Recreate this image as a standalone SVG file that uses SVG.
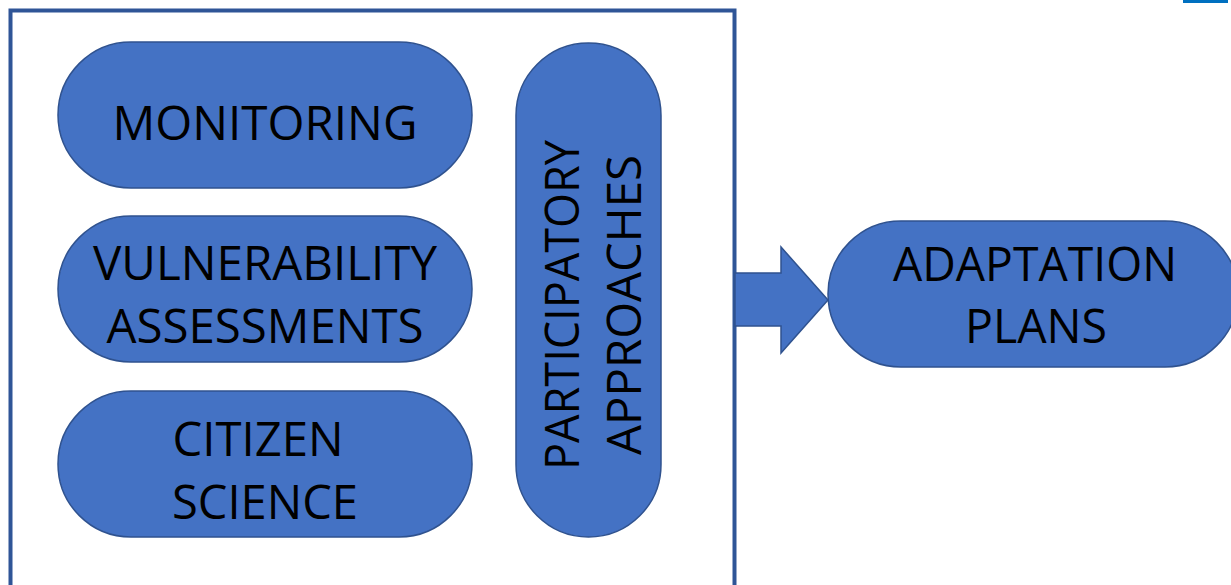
<svg xmlns="http://www.w3.org/2000/svg" width="1231" height="585" viewBox="0 0 1231 585">
<style>
.shape{fill:#4472C4;stroke:#2F528F;stroke-width:1.5}
.lbl{font-family:"Open Sans","Liberation Sans",sans-serif;font-size:48px;fill:#000;text-anchor:middle}
</style>
<rect width="1231" height="585" fill="#fff"/>
<rect x="1183" y="0" width="45" height="3" fill="#0070C0"/>
<g id="frame">
<rect x="10.5" y="10.5" width="724" height="600" fill="none" stroke="#2F5597" stroke-width="4"/>
</g>
<g id="monitoring">
<rect class="shape" x="58" y="42" width="414" height="146" rx="73"/>
<text class="lbl" x="265" y="140" textLength="305" lengthAdjust="spacingAndGlyphs">MONITORING</text>
</g>
<g id="vulnerability">
<rect class="shape" x="58" y="216" width="414" height="146" rx="73"/>
<text class="lbl" x="265" y="280" textLength="344" lengthAdjust="spacingAndGlyphs">VULNERABILITY</text>
<text class="lbl" x="265" y="343" textLength="317" lengthAdjust="spacingAndGlyphs">ASSESSMENTS</text>
</g>
<g id="citizen">
<rect class="shape" x="58" y="391" width="414" height="146" rx="73"/>
<text class="lbl" x="258" y="456" textLength="171" lengthAdjust="spacingAndGlyphs">CITIZEN</text>
<text class="lbl" x="265" y="519" textLength="186" lengthAdjust="spacingAndGlyphs">SCIENCE</text>
</g>
<g id="participatory">
<rect class="shape" x="516" y="43" width="145" height="494" rx="72.5"/>
<text class="lbl" transform="translate(579,305) rotate(-90)" x="0" y="0" textLength="330" lengthAdjust="spacingAndGlyphs">PARTICIPATORY</text>
<text class="lbl" transform="translate(641,305) rotate(-90)" x="0" y="0" textLength="300" lengthAdjust="spacingAndGlyphs">APPROACHES</text>
</g>
<g id="connectors">
<path class="shape" d="M735,273 H781 V247 L828,300 L781,353 V326 H735 Z"/>
</g>
<g id="adaptation">
<rect class="shape" x="828" y="221" width="410" height="146" rx="73"/>
<text class="lbl" x="1035" y="281" textLength="284" lengthAdjust="spacingAndGlyphs">ADAPTATION</text>
<text class="lbl" x="1036" y="343" textLength="142" lengthAdjust="spacingAndGlyphs">PLANS</text>
</g>
</svg>
